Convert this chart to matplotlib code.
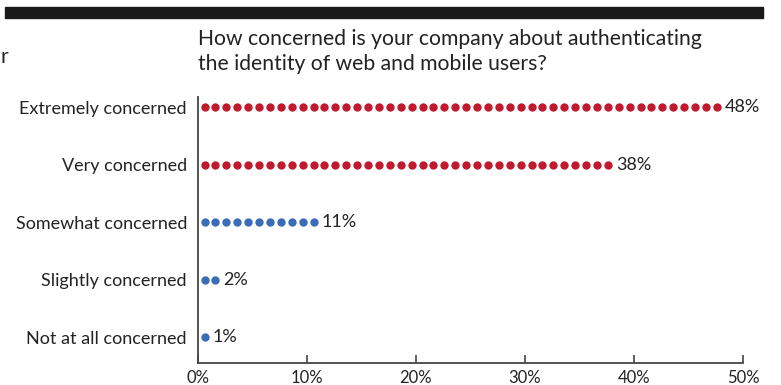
import matplotlib.pyplot as plt
import numpy as np

plt.rcParams['font.family'] = ['Lato', 'DejaVu Sans']

categories = ["Extremely concerned", "Very concerned", "Somewhat concerned",
              "Slightly concerned", "Not at all concerned"]
values = [48, 38, 11, 2, 1]
colors = ["#c1192d", "#c1192d", "#3b6cb7", "#3b6cb7", "#3b6cb7"]
ticks = [0, 10, 20, 30, 40, 50]
tick_labels = ["0%", "10%", "20%", "30%", "40%", "50%"]

fig = plt.figure(figsize=(7.81, 3.85), dpi=100)
ax = fig.add_axes([198 / 781, (385 - 363) / 385, (743 - 198) / 781, (363 - 97) / 385])

ypos = np.arange(len(categories))[::-1]
for y, v, c in zip(ypos, values, colors):
    # one dot per percentage point
    xs = np.arange(v) + 0.6
    ax.scatter(xs, np.full(v, y), s=36, color=c, linewidths=0, zorder=3, clip_on=False)
    ax.text(v + 0.35, y, f"{v}%", va="center", ha="left", fontsize=13, color="#222222")

ax.set_xlim(0, 50)
ax.set_ylim(-0.45, 4.18)
ax.set_yticks(ypos)
ax.set_yticklabels(categories, fontsize=13, color="#222222")
ax.set_xticks(ticks)
ax.set_xticklabels(tick_labels, fontsize=12, color="#222222")
ax.tick_params(axis="y", length=0, pad=8)
ax.tick_params(axis="x", direction="in", length=6, width=1.2, color="#444444", pad=5)
for s in ["top", "right"]:
    ax.spines[s].set_visible(False)
for s in ["left", "bottom"]:
    ax.spines[s].set_color("#444444")
    ax.spines[s].set_linewidth(1.3)

fig.text(198 / 781, 1 - 29 / 385,
         "How concerned is your company about authenticating\nthe identity of web and mobile users?",
         ha="left", va="top", fontsize=15.2, color="#222222", linespacing=1.3)
# text from a neighbouring column
fig.text(1 / 781, 1 - 57 / 385, "r", ha="left", va="center", fontsize=15, color="#222222")

# heavy rule across the top
fig.patches.append(plt.Rectangle((5 / 781, 1 - 18 / 385), 758 / 781, 11 / 385,
                                 transform=fig.transFigure, color="#1a1a1a", zorder=0))

fig.savefig("out.png", dpi=100)
